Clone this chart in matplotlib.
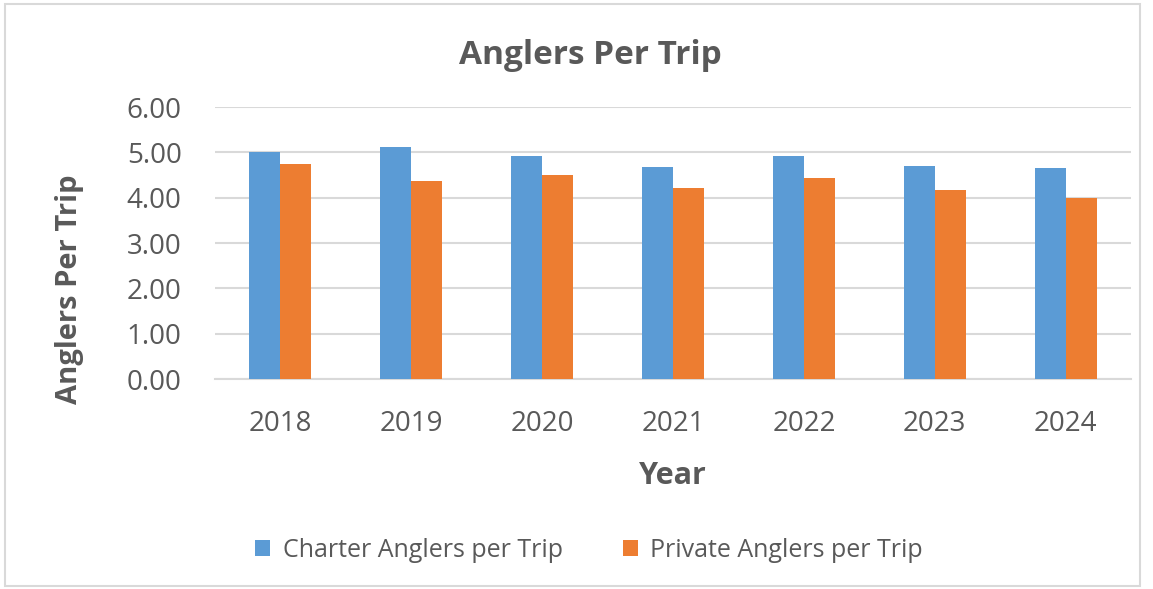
import numpy as np
import matplotlib.pyplot as plt
from matplotlib.patches import Rectangle

plt.rcParams['font.family'] = ['Open Sans', 'DejaVu Sans']

# data
years = ['2018', '2019', '2020', '2021', '2022', '2023', '2024']
charter = [5.00, 5.12, 4.91, 4.68, 4.91, 4.70, 4.65]
private = [4.74, 4.37, 4.49, 4.22, 4.43, 4.17, 3.99]

blue = '#5B9BD5'
orange = '#ED7D31'
grey = '#595959'

fig = plt.figure(figsize=(11.53, 5.89), dpi=100)
fig.patches.append(Rectangle((5 / 1153, 3 / 589), 1135 / 1153, 582 / 589,
                             transform=fig.transFigure, fill=False,
                             edgecolor='#D9D9D9', lw=1.5))

ax = fig.add_axes([0.1865, 0.3565, 0.7945, 0.4618])
x = np.arange(len(years))
w = 0.237
ax.bar(x - w / 2, charter, w, color=blue, label='Charter Anglers per Trip', zorder=3)
ax.bar(x + w / 2, private, w, color=orange, label='Private Anglers per Trip', zorder=3)

ax.set_xlim(-0.5, len(years) - 0.5)
ax.set_ylim(0, 6)
ax.set_yticks(np.arange(0, 7, 1))
ax.set_yticklabels([f'{v:.2f}' for v in range(7)])
ax.set_xticks(x)
ax.set_xticklabels(years)
ax.grid(axis='y', color='#D9D9D9', lw=1.5, zorder=0)
for s in ['top', 'right', 'left']:
    ax.spines[s].set_visible(False)
ax.spines['bottom'].set_color('#D9D9D9')
ax.spines['bottom'].set_linewidth(1.5)
ax.tick_params(length=0, labelsize=20, colors=grey)
ax.tick_params(axis='y', pad=24)
ax.tick_params(axis='x', pad=22)

ax.set_xlabel('Year', fontsize=22, fontweight='bold', color=grey)
ax.set_ylabel('Anglers Per Trip', fontsize=21, fontweight='bold', color=grey)
ax.xaxis.set_label_coords(0.5, -0.30)
ax.yaxis.set_label_coords(-0.143, 0.33)
fig.text(0.512, 0.8913, 'Anglers Per Trip', ha='center', va='baseline',
         fontsize=24, fontweight='bold', color=grey)

leg = fig.legend(loc='center', bbox_to_anchor=(0.511, 0.066), ncol=2, frameon=False,
                 fontsize=18, handlelength=0.6, handleheight=0.6,
                 handletextpad=0.5, columnspacing=2.4)
for t in leg.get_texts():
    t.set_color(grey)

fig.savefig('out.png', dpi=100)
